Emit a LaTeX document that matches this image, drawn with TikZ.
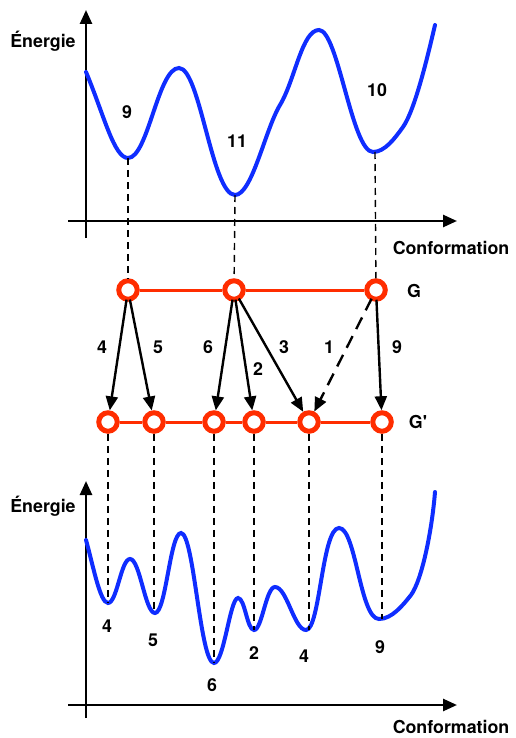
\documentclass[tikz,border=0pt]{standalone}
\usepackage{fontspec}
\setmainfont{TeX Gyre Heros}
\usetikzlibrary{arrows.meta}
\definecolor{nodered}{RGB}{255,45,0}
\definecolor{curveblue}{RGB}{15,45,255}
\tikzset{
  lbl/.style={font=\fontsize{17.8}{21}\selectfont\bfseries, inner sep=0pt},
  axis/.style={line width=2.6pt, -{Triangle[length=14pt,width=12pt]}},
  curve/.style={curveblue, line width=4pt, line cap=round},
  vdash/.style={line width=1.4pt, dash pattern=on 7pt off 5pt},
  gnode/.style={circle, draw=nodered, fill=white, line width=5pt, minimum size=18.5pt, inner sep=0pt},
  gedge/.style={nodered, line width=3pt},
  arr/.style={line width=2.4pt, -{Triangle[length=14pt,width=12pt]}, shorten <=-2pt},
  darr/.style={arr, dash pattern=on 13pt off 8pt},
}
\begin{document}
\begin{tikzpicture}[x=1pt,y=-1pt]
\useasboundingbox (0,0) rectangle (515,738);
% ---------- top plot ----------
\draw[axis] (86,238) -- (86,10);
\draw[axis] (68,221) -- (457,221);
\node[lbl] (e1) at (43,41) {Énergie};
\node[lbl] (c1) at (451,248) {Conformation};
\draw[curve] (86,72) .. controls (104,115) and (114,158) .. (128,158)
  .. controls (148,158) and (158,68) .. (179,68)
  .. controls (200,68) and (212,195) .. (235,195)
  .. controls (252,195) and (265,130) .. (280,105)
  .. controls (295,80) and (302,30) .. (319,30)
  .. controls (338,30) and (352,152) .. (373,152)
  .. controls (385,152) and (395,138) .. (403,127)
  .. controls (415,110) and (428,55) .. (435,25);
\coordinate (tm1) at (128,158);
\coordinate (tm2) at (235,195);
\coordinate (tm3) at (375,152);
\node[lbl] (t9) at (127,112) {9};
\node[lbl] (t11) at (237,141) {11};
\node[lbl] (t10) at (377,90) {10};
% ---------- graphs ----------
\node[gnode] (g1) at (128,290) {};
\node[gnode] (g2) at (234,290) {};
\node[gnode] (g3) at (376,290) {};
\node[lbl] (gl) at (414,291) {G};
\node[gnode] (h1) at (108,422) {};
\node[gnode] (h2) at (154,422) {};
\node[gnode] (h3) at (214,422) {};
\node[gnode] (h4) at (254,422) {};
\node[gnode] (h5) at (309,422) {};
\node[gnode] (h6) at (382,422) {};
\node[lbl] (hl) at (418,422) {G\textquotesingle};
\draw[vdash] (tm1) -- (g1);
\draw[vdash] (tm2) -- (g2);
\draw[vdash] (tm3) -- (g3);
\draw[gedge] (g1) -- (g2);
\draw[gedge] (g2) -- (g3);
\draw[gedge] (h1) -- (h2);
\draw[gedge] (h2) -- (h3);
\draw[gedge] (h3) -- (h4);
\draw[gedge] (h4) -- (h5);
\draw[gedge] (h5) -- (h6);
\draw[arr] (g1) -- (h1);
\draw[arr] (g1) -- (h2);
\draw[arr] (g2) -- (h3);
\draw[arr] (g2) -- (h4);
\draw[arr] (g2) -- (h5);
\draw[darr] (g3) -- (h5);
\draw[arr] (g3) -- (h6);
\node[lbl] (a4) at (102,347) {4};
\node[lbl] (a5) at (158,347) {5};
\node[lbl] (a6) at (208,347) {6};
\node[lbl] (a2) at (258,369) {2};
\node[lbl] (a3) at (284,347) {3};
\node[lbl] (a1) at (329,347) {1};
\node[lbl] (a9) at (397,347) {9};
% ---------- bottom plot ----------
\draw[axis] (86,718) -- (86,481);
\draw[axis] (68,705) -- (457,705);
\node[lbl] (e2) at (43,506) {Énergie};
\node[lbl] (c2) at (451,727) {Conformation};
\draw[curve] (86,540) .. controls (93,565) and (100,603) .. (108,603)
  .. controls (117,603) and (121,559) .. (130,559)
  .. controls (140,559) and (145,613) .. (155,613)
  .. controls (166,613) and (170,533) .. (181,533)
  .. controls (194,533) and (200,663) .. (214,663)
  .. controls (224,663) and (230,598) .. (238,598)
  .. controls (245,598) and (247,630) .. (254,630)
  .. controls (262,630) and (266,587) .. (275,587)
  .. controls (287,587) and (294,630) .. (306,630)
  .. controls (320,630) and (322,528) .. (339,528)
  .. controls (356,528) and (360,619) .. (379,619)
  .. controls (392,619) and (403,605) .. (411,595)
  .. controls (422,580) and (432,530) .. (435,492);
\coordinate (bm1) at (108,603);
\coordinate (bm2) at (154,613);
\coordinate (bm3) at (214,663);
\coordinate (bm4) at (254,630);
\coordinate (bm5) at (309,630);
\coordinate (bm6) at (382,619);
\draw[vdash] (h1) -- (bm1);
\draw[vdash] (h2) -- (bm2);
\draw[vdash] (h3) -- (bm3);
\draw[vdash] (h4) -- (bm4);
\draw[vdash] (h5) -- (bm5);
\draw[vdash] (h6) -- (bm6);
\node[lbl] (b4) at (107,626) {4};
\node[lbl] (b5) at (153,640) {5};
\node[lbl] (b6) at (212,685) {6};
\node[lbl] (b2) at (254,653) {2};
\node[lbl] (b4b) at (304,656) {4};
\node[lbl] (b9) at (380,647) {9};
\end{tikzpicture}
\end{document}
